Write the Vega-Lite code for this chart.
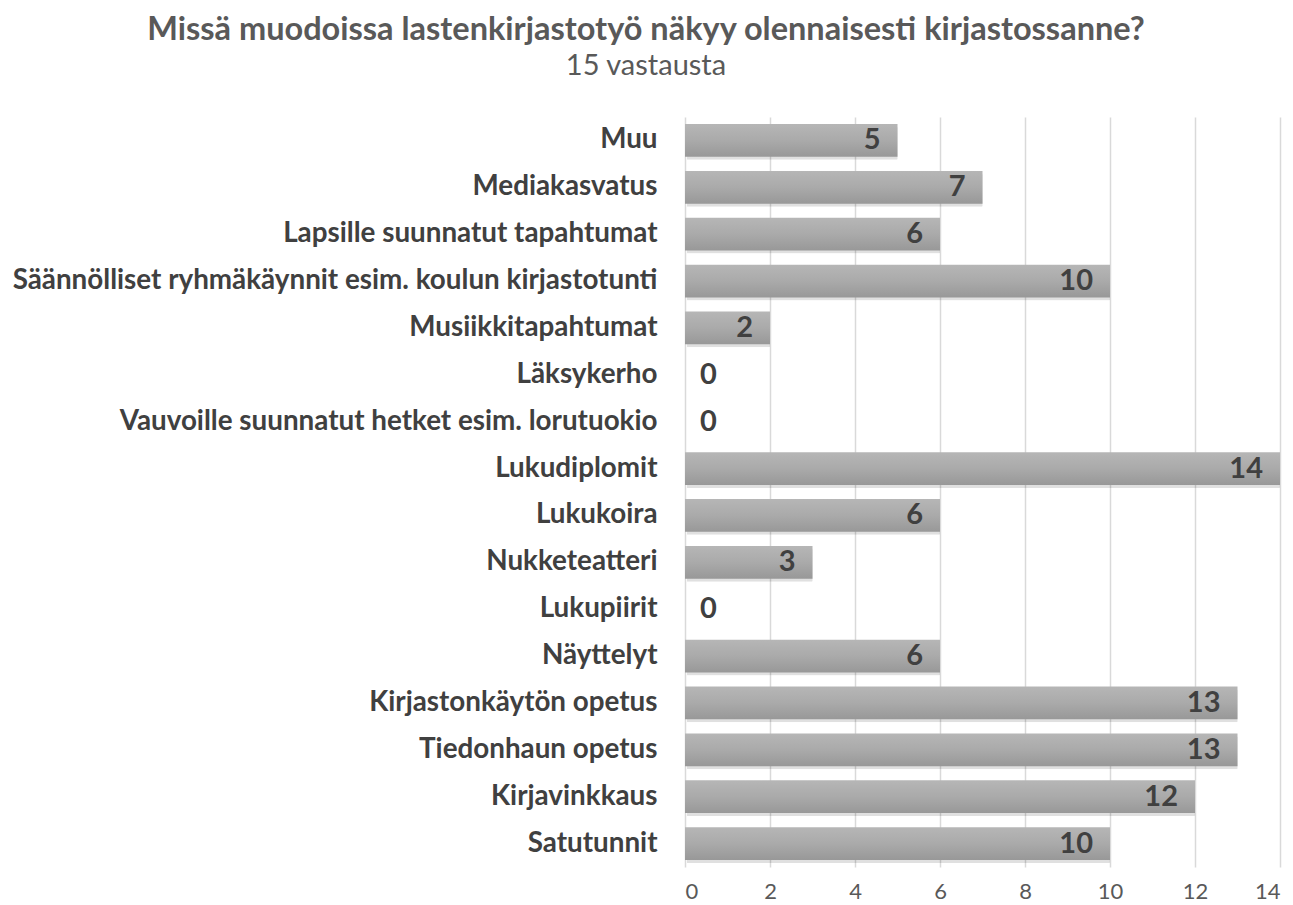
{
  "$schema": "https://vega.github.io/schema/vega-lite/v6.json",
  "width": 595,
  "height": 750,
  "padding": {"left": 12, "top": 13, "right": 4, "bottom": 0},
  "background": "white",
  "config": {"view": {"stroke": null}, "font": "Lato"},
  "title": {
    "text": "Missä muodoissa lastenkirjastotyö näkyy olennaisesti kirjastossanne?",
    "subtitle": "15 vastausta",
    "font": "Lato",
    "fontSize": 32.5,
    "fontWeight": "bold",
    "color": "#595959",
    "subtitleFont": "Lato",
    "subtitleFontSize": 29,
    "subtitleColor": "#595959",
    "subtitlePadding": 6,
    "anchor": "middle",
    "frame": "bounds",
    "offset": 36
  },
  "data": {
    "values": [
      {"kategoria": "Muu", "lukumaara": 5},
      {"kategoria": "Mediakasvatus", "lukumaara": 7},
      {"kategoria": "Lapsille suunnatut tapahtumat", "lukumaara": 6},
      {"kategoria": "Säännölliset ryhmäkäynnit esim. koulun kirjastotunti", "lukumaara": 10},
      {"kategoria": "Musiikkitapahtumat", "lukumaara": 2},
      {"kategoria": "Läksykerho", "lukumaara": 0},
      {"kategoria": "Vauvoille suunnatut hetket esim. lorutuokio", "lukumaara": 0},
      {"kategoria": "Lukudiplomit", "lukumaara": 14},
      {"kategoria": "Lukukoira", "lukumaara": 6},
      {"kategoria": "Nukketeatteri", "lukumaara": 3},
      {"kategoria": "Lukupiirit", "lukumaara": 0},
      {"kategoria": "Näyttelyt", "lukumaara": 6},
      {"kategoria": "Kirjastonkäytön opetus", "lukumaara": 13},
      {"kategoria": "Tiedonhaun opetus", "lukumaara": 13},
      {"kategoria": "Kirjavinkkaus", "lukumaara": 12},
      {"kategoria": "Satutunnit", "lukumaara": 10}
    ]
  },
  "encoding": {
    "y": {
      "field": "kategoria",
      "type": "nominal",
      "sort": ["Muu", "Mediakasvatus", "Lapsille suunnatut tapahtumat", "Säännölliset ryhmäkäynnit esim. koulun kirjastotunti", "Musiikkitapahtumat", "Läksykerho", "Vauvoille suunnatut hetket esim. lorutuokio", "Lukudiplomit", "Lukukoira", "Nukketeatteri", "Lukupiirit", "Näyttelyt", "Kirjastonkäytön opetus", "Tiedonhaun opetus", "Kirjavinkkaus", "Satutunnit"],
      "scale": {"paddingInner": 0.3, "paddingOuter": 0.15},
      "axis": {
        "title": null,
        "domain": false,
        "ticks": false,
        "labelFont": "Lato",
        "labelFontSize": 27.8,
        "labelFontWeight": "bold",
        "labelColor": "#404040",
        "labelPadding": 28,
        "labelLimit": 800,
        "minExtent": 673,
        "maxExtent": 673
      }
    },
    "x": {
      "field": "lukumaara",
      "type": "quantitative",
      "scale": {"domain": [0, 14], "nice": false},
      "axis": {
        "title": null,
        "values": [0, 2, 4, 6, 8, 10, 12, 14],
        "domain": false,
        "ticks": false,
        "grid": true,
        "gridColor": "#d9d9d9",
        "gridWidth": 1.5,
        "labelFont": "Lato",
        "labelFontSize": 22,
        "labelColor": "#595959",
        "labelPadding": 14
      }
    }
  },
  "layer": [
    {
      "mark": {"type": "bar", "color": "#000000", "opacity": 0.12, "xOffset": 2, "yOffset": 3, "cornerRadius": 1},
      "transform": [{"filter": "datum.lukumaara > 0"}]
    },
    {
      "mark": {
        "type": "bar",
        "color": {
          "gradient": "linear",
          "x1": 0, "y1": 0, "x2": 0, "y2": 1,
          "stops": [
            {"offset": 0, "color": "#b6b6b6"},
            {"offset": 0.5, "color": "#aaaaaa"},
            {"offset": 1, "color": "#989898"}
          ]
        }
      },
      "transform": [{"filter": "datum.lukumaara > 0"}]
    },
    {
      "mark": {"type": "text", "align": "right", "dx": -17, "font": "Lato", "fontSize": 29, "fontWeight": "bold", "color": "#404040"},
      "transform": [{"filter": "datum.lukumaara > 0"}],
      "encoding": {"text": {"field": "lukumaara", "type": "quantitative"}}
    },
    {
      "mark": {"type": "text", "align": "left", "dx": 15, "font": "Lato", "fontSize": 29, "fontWeight": "bold", "color": "#404040"},
      "transform": [{"filter": "datum.lukumaara == 0"}],
      "encoding": {"text": {"field": "lukumaara", "type": "quantitative"}}
    }
  ]
}
